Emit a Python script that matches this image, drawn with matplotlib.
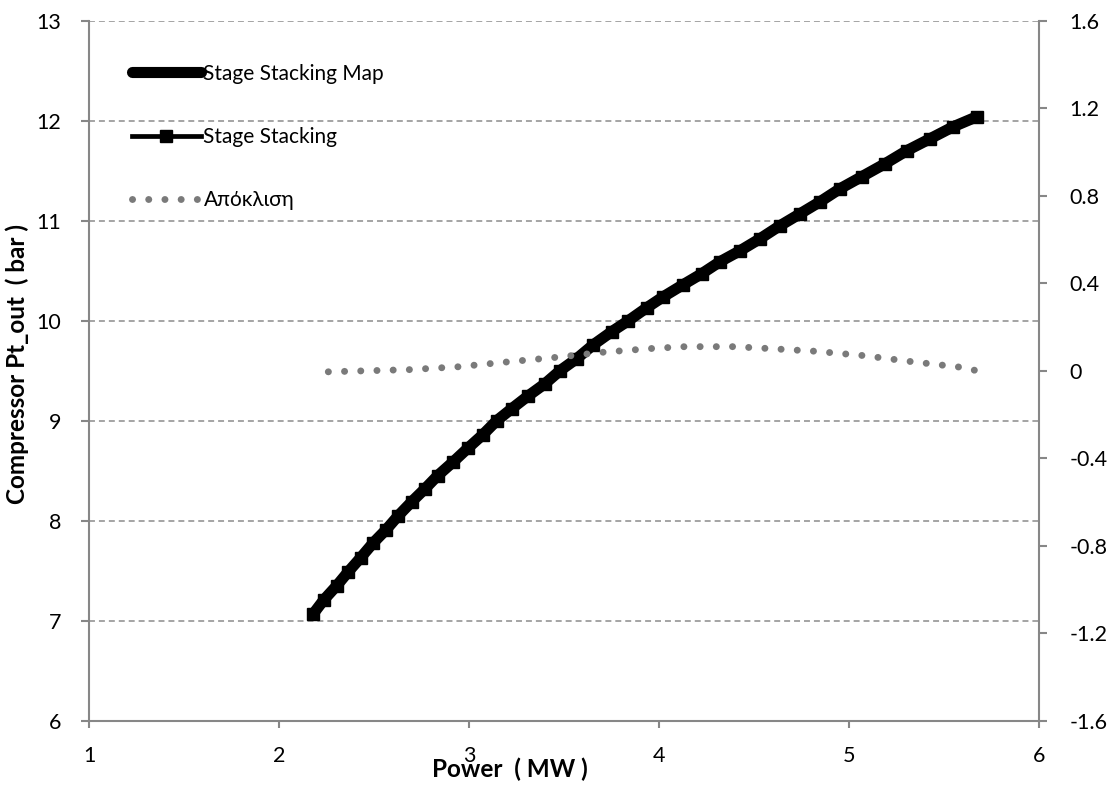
import matplotlib
matplotlib.use("Agg")
import matplotlib.pyplot as plt
from matplotlib.lines import Line2D

# Compressor outlet total pressure versus shaft power (stage stacking)
power_mw = [2.179, 2.235, 2.302, 2.363, 2.428, 2.495, 2.562, 2.626, 2.697, 2.767,
            2.833, 2.916, 2.995, 3.071, 3.144, 3.223, 3.311, 3.398, 3.477, 3.565,
            3.653, 3.749, 3.837, 3.934, 4.021, 4.125, 4.223, 4.319, 4.425, 4.530,
            4.635, 4.741, 4.846, 4.951, 5.065, 5.188, 5.302, 5.425, 5.547, 5.671]
pt_out_bar = [7.07, 7.21, 7.35, 7.49, 7.63, 7.78, 7.91, 8.05, 8.19, 8.32,
              8.45, 8.59, 8.73, 8.86, 9.00, 9.12, 9.25, 9.37, 9.50, 9.62,
              9.76, 9.89, 10.00, 10.13, 10.24, 10.36, 10.47, 10.59, 10.70, 10.82,
              10.95, 11.07, 11.19, 11.32, 11.44, 11.57, 11.70, 11.82, 11.94, 12.04]

# Deviation between map-based and stage-stacking results
dev_power = [2.258, 2.686, 2.942, 3.198, 3.455, 3.709, 3.965, 4.135, 4.393,
             4.565, 4.821, 5.077, 5.332, 5.586, 5.671]
deviation = [-0.005, 0.005, 0.018, 0.040, 0.061, 0.085, 0.102, 0.110, 0.110,
             0.102, 0.089, 0.069, 0.041, 0.016, 0.000]

x_ticks = [1, 2, 3, 4, 5, 6]
y_ticks = [6, 7, 8, 9, 10, 11, 12, 13]
y2_ticks = [-1.6, -1.2, -0.8, -0.4, 0.0, 0.4, 0.8, 1.2, 1.6]
y2_labels = ["-1.6", "-1.2", "-0.8", "-0.4", "0", "0.4", "0.8", "1.2", "1.6"]

labels = ["Stage Stacking Map", "Stage Stacking", "Απόκλιση"]

FONT = ["Lato", "Noto Sans", "DejaVu Sans"]
plt.rcParams["font.family"] = FONT

AXIS_GREY = "#878787"
GRID_GREY = "#8c8c8c"
DOT_GREY = "#7a7a7a"
FS = 15.5
LABEL_FS = 17.5

DOT_LW = 5.0
DOT_STYLE = (0, (0.01, 11.62 / DOT_LW))

fig = plt.figure(figsize=(11.15, 7.85), dpi=100)
ax = fig.add_axes([0.0801, 0.0819, 0.8520, 0.8917])
ax.set_xlim(1, 6)
ax.set_ylim(6, 13)
ax.set_xticks(x_ticks)
ax.set_yticks(y_ticks)
ax.set_xticklabels([str(v) for v in x_ticks])
ax.set_yticklabels([str(v) for v in y_ticks])

ax.yaxis.grid(True, color=GRID_GREY, lw=1.1, ls=(0, (3.9, 2.6)))
ax.set_axisbelow(True)

for side in ("left", "bottom"):
    ax.spines[side].set_color(AXIS_GREY)
    ax.spines[side].set_linewidth(1.5)
ax.spines["top"].set_visible(False)
ax.spines["right"].set_visible(False)

ax.tick_params(axis="y", direction="out", length=5.8, width=1.5, color=AXIS_GREY,
               labelsize=FS, pad=14.5)
ax.tick_params(axis="x", direction="out", length=5, width=1.5, color=AXIS_GREY,
               labelsize=FS, pad=13)

ax.plot(power_mw, pt_out_bar, color="black", lw=8.0, solid_capstyle="round",
        solid_joinstyle="round", zorder=3)
ax.plot(power_mw, pt_out_bar, color="black", lw=3.4, marker="s", markersize=8.2,
        zorder=4)

ax.set_xlabel("Power  ( MW )", fontsize=LABEL_FS, fontweight="bold", labelpad=0)
ax.xaxis.set_label_coords(0.443, -0.052)
ax.set_ylabel("Compressor Pt_out  ( bar )", fontsize=LABEL_FS, fontweight="bold")
ax.yaxis.set_label_coords(-0.064, 0.51)

ax2 = ax.twinx()
ax2.set_ylim(-1.6, 1.6)
ax2.set_yticks(y2_ticks)
ax2.set_yticklabels(y2_labels)
for side in ("left", "top", "bottom"):
    ax2.spines[side].set_visible(False)
ax2.spines["right"].set_color(AXIS_GREY)
ax2.spines["right"].set_linewidth(1.5)
ax2.tick_params(axis="y", direction="out", length=5.8, width=1.5, color=AXIS_GREY,
                labelsize=FS, pad=16)

ax2.plot(dev_power, deviation, color=DOT_GREY, lw=DOT_LW,
         ls=DOT_STYLE, dash_capstyle="round", zorder=5)

handles = [
    Line2D([], [], color="black", lw=8.0, solid_capstyle="round"),
    Line2D([], [], color="black", lw=3.4, marker="s", markersize=8.2),
    Line2D([], [], color=DOT_GREY, lw=DOT_LW, ls=DOT_STYLE,
           dash_capstyle="round"),
]
fig.legend(handles, labels, loc="upper left", bbox_to_anchor=(0.118, 0.919),
           frameon=False, fontsize=15, handlelength=3.35, handletextpad=0.1,
           labelspacing=2.08, numpoints=1, borderaxespad=0, borderpad=0)

fig.savefig("out.png", dpi=100)
